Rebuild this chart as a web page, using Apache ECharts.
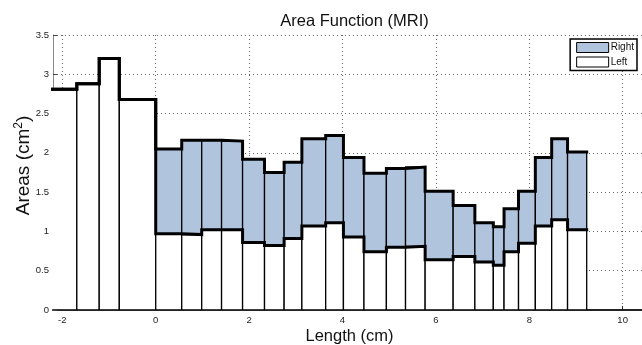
<!DOCTYPE html>
<html>
<head>
<meta charset="utf-8">
<script src="https://cdn.jsdelivr.net/npm/echarts@6/dist/echarts.min.js"></script>
<style>
  html, body { margin: 0; padding: 0; background: #fff; }
  #chart { width: 642px; height: 345px; }
</style>
</head>
<body>
<div id="chart"></div>
<script>
// Bin edges along the tract (cm); the first bin starts left of the visible range
const binEdges = [-2.4, -1.69, -1.21, -0.78, 0, 0.557, 0.985, 1.41, 1.86, 2.33, 2.75,
  3.13, 3.64, 4.02, 4.46, 4.94, 5.35, 5.77, 6.37, 6.835, 7.23, 7.46, 7.77, 8.13,
  8.48, 8.82, 9.23];
// Left-side area per bin (cm^2)
const leftArea = [2.81, 2.88, 3.20, 2.68, 0.97, 0.96, 1.02, 1.02, 0.86, 0.82, 0.91,
  1.07, 1.11, 0.93, 0.74, 0.80, 0.81, 0.64, 0.68, 0.61, 0.57, 0.74, 0.85,
  1.07, 1.15, 1.02];
// Right-side area per bin, stacked on top of the left side (cm^2)
const rightArea = [0, 0, 0, 0, 1.08, 1.20, 1.14, 1.13, 1.06, 0.93, 0.97,
  1.11, 1.11, 1.01, 1.00, 1.00, 1.01, 0.87, 0.65, 0.50, 0.49, 0.55, 0.66,
  0.87, 1.03, 0.99];
const xTicks = [-2, 0, 2, 4, 6, 8, 10];
const seriesNames = ['Right', 'Left'];

const blue = '#B0C4DE';

// Rectangles [x0, x1, base, top]
const leftRects = [], rightRects = [];
const leftOutline = [], totalOutline = [];
for (let i = 0; i < leftArea.length; i++) {
  const x0 = binEdges[i], x1 = binEdges[i + 1];
  const l = leftArea[i], t = leftArea[i] + rightArea[i];
  leftRects.push([x0, x1, 0, l]);
  if (rightArea[i] > 0) rightRects.push([x0, x1, l, t]);
  leftOutline.push([x0, l], [x1, l]);
  totalOutline.push([x0, t], [x1, t]);
}

function rectRenderer(fill) {
  return function (params, api) {
    const p0 = api.coord([api.value(0), api.value(2)]);
    const p1 = api.coord([api.value(1), api.value(3)]);
    return {
      type: 'rect',
      shape: { x: p0[0], y: p1[1], width: p1[0] - p0[0], height: p0[1] - p1[1] },
      style: { fill: fill, stroke: '#000', lineWidth: 1.3 }
    };
  };
}

const chart = echarts.init(document.getElementById('chart'), null, { renderer: 'canvas' });

const fontFamily = 'Liberation Sans, Arial, Helvetica, sans-serif';
const gridLine = { show: true, lineStyle: { color: '#666', width: 1, type: [1, 3] } };

chart.setOption({
  animation: false,
  backgroundColor: '#fff',
  title: {
    text: 'Area Function (MRI)',
    left: 349.5,
    top: 7.5,
    textAlign: 'center',
    textStyle: { fontFamily, fontSize: 16.5, fontWeight: 'normal', color: '#111' }
  },
  legend: {
    data: [
      { name: seriesNames[0], itemStyle: { color: blue, borderColor: '#000', borderWidth: 1 } },
      { name: seriesNames[1], itemStyle: { color: '#fff', borderColor: '#000', borderWidth: 1 } }
    ],
    orient: 'vertical',
    right: 5,
    top: 39,
    icon: 'rect',
    itemWidth: 32,
    itemHeight: 10,
    itemGap: 3.5,
    padding: [3, 3, 3, 6],
    borderColor: '#000',
    borderWidth: 1.5,
    backgroundColor: '#fff',
    textStyle: { fontFamily, fontSize: 10, color: '#111', padding: [0, 0, 0, -3] }
  },
  grid: {
    left: 53,
    top: 35,
    width: 593,
    bottom: 35,
    containLabel: false,
    outerBoundsMode: 'none'
  },
  xAxis: {
    type: 'value',
    min: -2.2,
    max: 10.5,
    splitNumber: 6,
    minInterval: 2,
    maxInterval: 2,
    name: 'Length (cm)',
    nameLocation: 'middle',
    nameGap: 18,
    nameMoveOverlap: false,
    nameTextStyle: { fontFamily, fontSize: 16.5, color: '#111' },
    axisLine: { show: true, onZero: false, lineStyle: { color: '#222', width: 2 } },
    axisTick: { show: true, inside: true, length: 4, lineStyle: { color: '#222' } },
    axisLabel: {
      fontFamily, fontSize: 9.5, color: '#222', margin: 5,
      showMinLabel: false, showMaxLabel: false,
      formatter: v => (xTicks.includes(Math.round(v * 100) / 100) ? String(v) : '')
    },
    splitLine: gridLine
  },
  yAxis: {
    type: 'value',
    min: 0,
    max: 3.5,
    interval: 0.5,
    name: 'Areas (cm{sup|2})',
    nameLocation: 'middle',
    nameRotate: 90,
    nameGap: 18,
    nameMoveOverlap: false,
    nameTextStyle: {
      fontFamily, fontSize: 19, color: '#111',
      padding: [0, 0, 0, 14],
      rich: { sup: { fontFamily, fontSize: 12, color: '#111', verticalAlign: 'bottom', padding: [0, 0, 10, 0] } }
    },
    axisLine: { show: true, onZero: false, lineStyle: { color: '#888', width: 1 } },
    axisTick: { show: true, inside: true, length: 4, lineStyle: { color: '#444' } },
    axisLabel: { fontFamily, fontSize: 9.5, color: '#222', margin: 4 },
    splitLine: gridLine
  },
  series: [
    {
      name: seriesNames[1],
      type: 'custom',
      clip: true,
      itemStyle: { color: '#fff', borderColor: '#000', borderWidth: 1 },
      renderItem: rectRenderer('#fff'),
      encode: { x: [0, 1], y: [2, 3] },
      data: leftRects,
      z: 2
    },
    {
      name: seriesNames[0],
      type: 'custom',
      clip: true,
      itemStyle: { color: blue, borderColor: '#000', borderWidth: 1 },
      renderItem: rectRenderer(blue),
      encode: { x: [0, 1], y: [2, 3] },
      data: rightRects,
      z: 2
    },
    {
      name: 'leftOutline',
      type: 'line',
      data: leftOutline,
      symbol: 'none',
      clip: true,
      silent: true,
      lineStyle: { color: '#000', width: 3, join: 'miter', cap: 'square' },
      z: 4
    },
    {
      name: 'totalOutline',
      type: 'line',
      data: totalOutline,
      symbol: 'none',
      clip: true,
      silent: true,
      lineStyle: { color: '#000', width: 3, join: 'miter', cap: 'square' },
      z: 4
    }
  ]
});
</script>
</body>
</html>
